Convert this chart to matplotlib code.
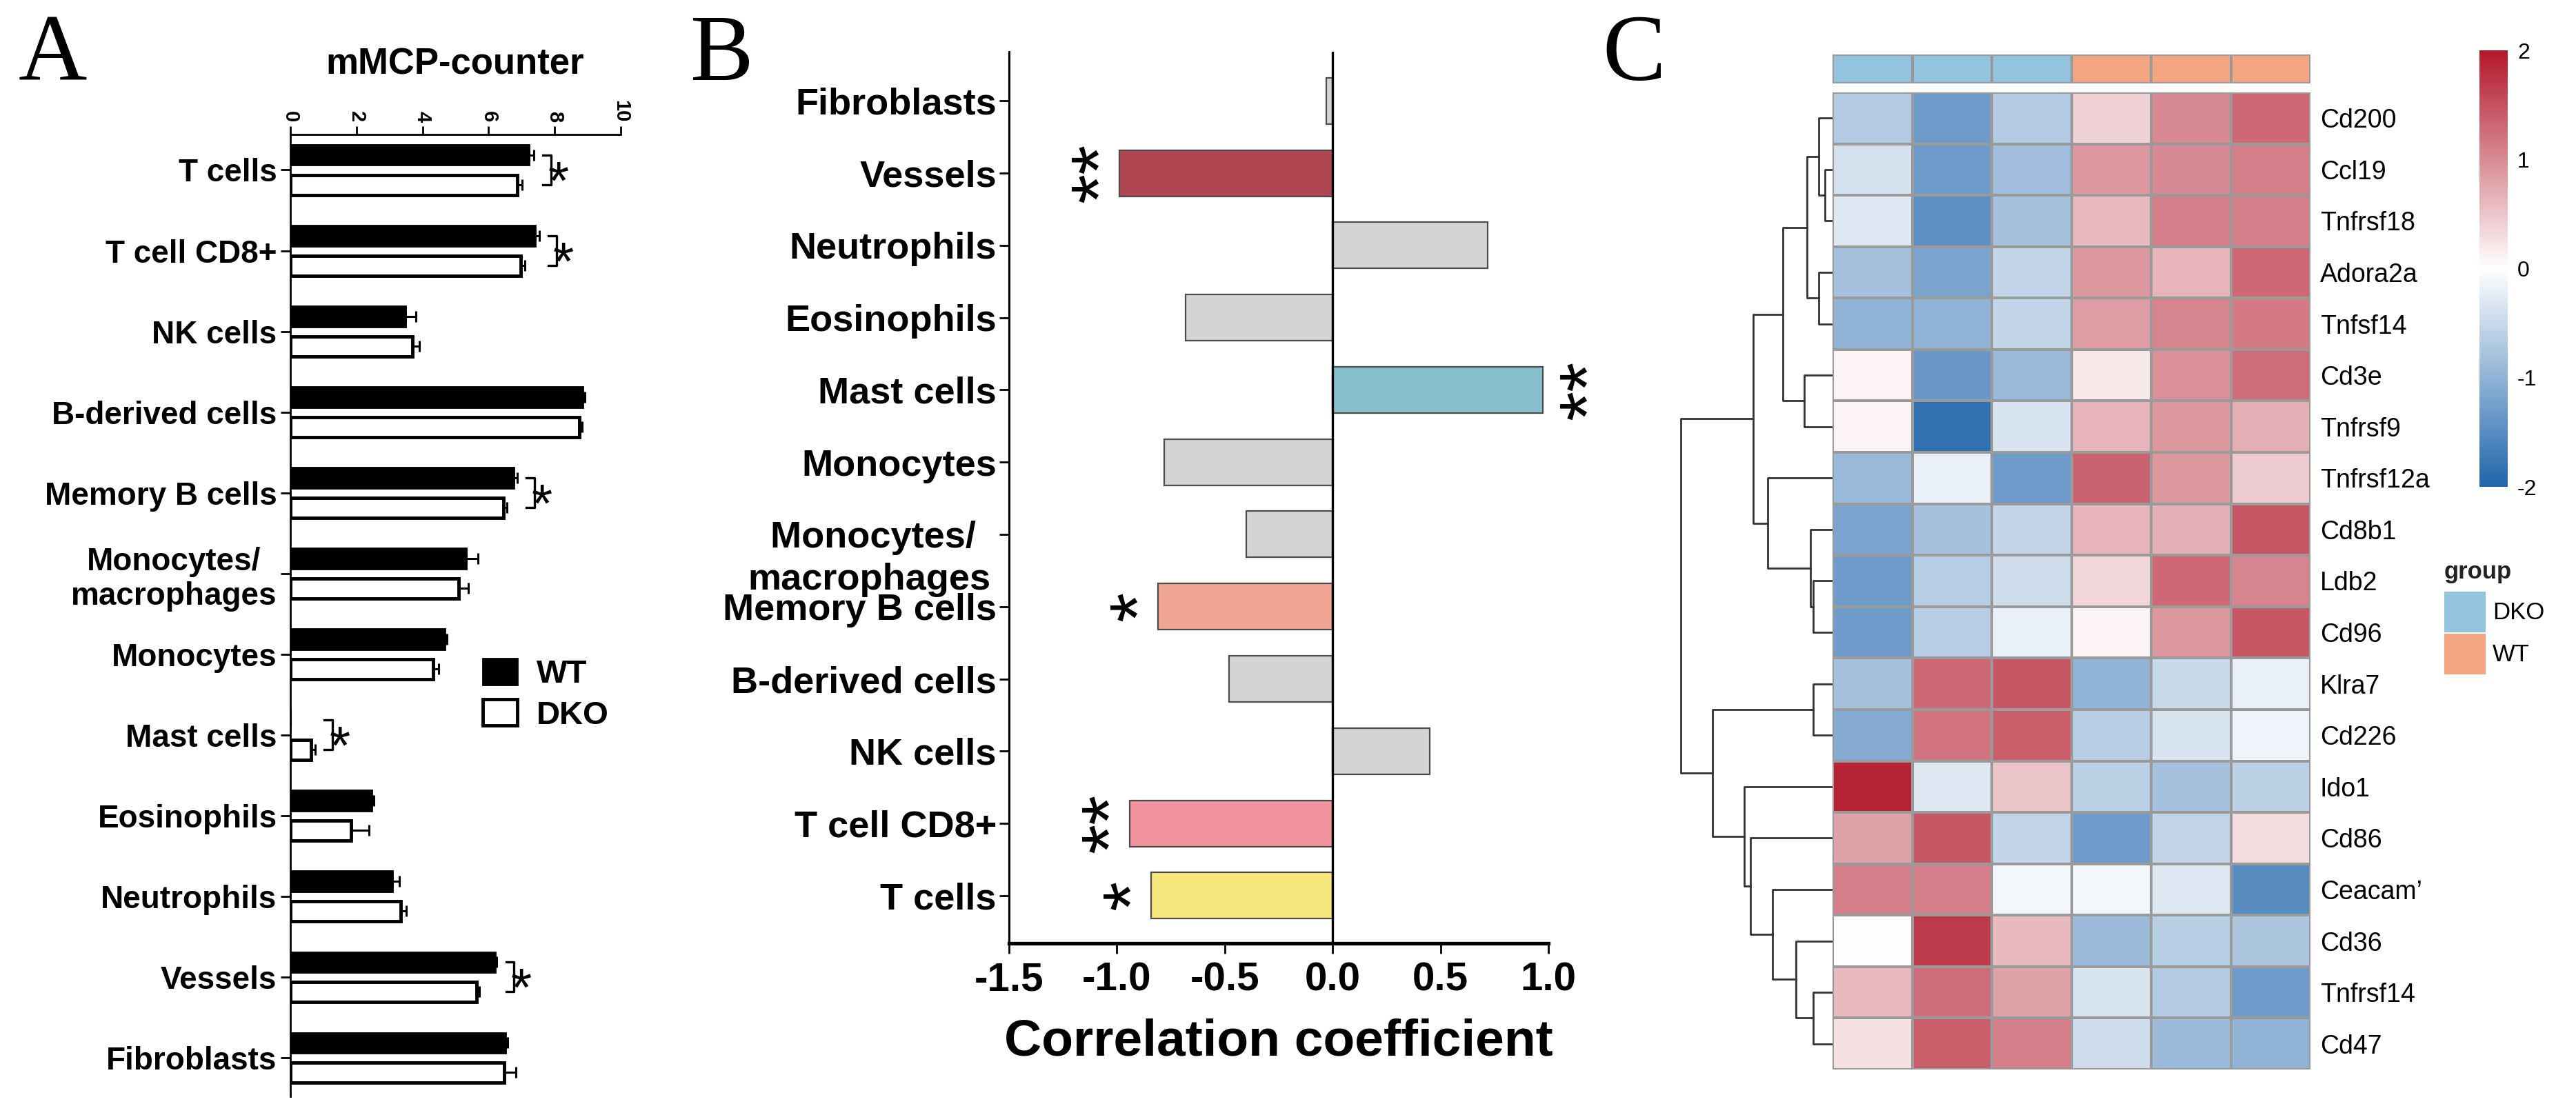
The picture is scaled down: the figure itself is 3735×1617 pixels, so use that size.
import numpy as np
import matplotlib
matplotlib.use('Agg')
import matplotlib.pyplot as plt
from matplotlib.colors import LinearSegmentedColormap, ListedColormap, Normalize
from matplotlib.patches import Patch, Rectangle
from matplotlib.cm import ScalarMappable
from matplotlib.transforms import blended_transform_factory

plt.rcParams['font.family'] = ['Liberation Sans', 'DejaVu Sans']
plt.rcParams['axes.unicode_minus'] = False

# ---- panel A data (mMCP-counter scores) ----
cells_a = ['T cells', 'T cell CD8+', 'NK cells', 'B-derived cells', 'Memory B cells',
           'Monocytes/\nmacrophages', 'Monocytes', 'Mast cells', 'Eosinophils',
           'Neutrophils', 'Vessels', 'Fibroblasts']
wt_mean = [7.22, 7.41, 3.49, 8.86, 6.77, 5.32, 4.68, 0.0, 2.47, 3.10, 6.20, 6.52]
wt_err = [0.15, 0.12, 0.30, 0.05, 0.10, 0.35, 0.05, 0.0, 0.05, 0.20, 0.05, 0.05]
dko_mean = [6.87, 6.97, 3.70, 8.74, 6.46, 5.09, 4.33, 0.63, 1.84, 3.35, 5.63, 6.48]
dko_err = [0.15, 0.12, 0.20, 0.10, 0.10, 0.30, 0.15, 0.12, 0.55, 0.15, 0.10, 0.35]
sig_a = ['T cells', 'T cell CD8+', 'Memory B cells', 'Mast cells', 'Vessels']

# ---- panel B data (correlation coefficients) ----
cells_b = ['Fibroblasts', 'Vessels', 'Neutrophils', 'Eosinophils', 'Mast cells', 'Monocytes',
           'Monocytes/', 'Memory B cells', 'B-derived cells', 'NK cells', 'T cell CD8+', 'T cells']
corr_b = [-0.03, -0.99, 0.72, -0.68, 0.975, -0.78, -0.40, -0.81, -0.48, 0.45, -0.94, -0.84]
stars_b = ['', '**', '', '', '**', '', '', '*', '', '', '**', '*']
colors_b = ['#D4D4D4', '#B04651', '#D4D4D4', '#D4D4D4', '#87C0CA', '#D4D4D4',
            '#D4D4D4', '#F2A493', '#D4D4D4', '#D4D4D4', '#F0939F', '#F7E67B']

# ---- panel C data (heatmap z-scores) ----
genes = ['Cd200', 'Ccl19', 'Tnfrsf18', 'Adora2a', 'Tnfsf14', 'Cd3e', 'Tnfrsf9', 'Tnfrsf12a',
         'Cd8b1', 'Ldb2', 'Cd96', 'Klra7', 'Cd226', 'Ido1', 'Cd86', 'Ceacam\u2019', 'Cd36',
         'Tnfrsf14', 'Cd47']
groups = ['DKO', 'DKO', 'DKO', 'WT', 'WT', 'WT']
zscores = np.array([
    [-0.70, -1.30, -0.70, 0.40, 1.00, 1.30],
    [-0.40, -1.30, -0.85, 0.90, 1.00, 1.10],
    [-0.30, -1.45, -0.80, 0.60, 1.10, 1.10],
    [-0.80, -1.20, -0.55, 0.90, 0.65, 1.30],
    [-1.00, -1.00, -0.55, 0.85, 1.05, 1.15],
    [0.10, -1.35, -0.90, 0.20, 0.95, 1.25],
    [0.10, -1.85, -0.35, 0.65, 0.90, 0.70],
    [-0.90, -0.20, -1.30, 1.35, 0.90, 0.45],
    [-1.20, -0.80, -0.55, 0.65, 0.70, 1.45],
    [-1.30, -0.65, -0.45, 0.35, 1.30, 1.05],
    [-1.30, -0.65, -0.20, 0.10, 0.90, 1.45],
    [-0.80, 1.30, 1.45, -1.00, -0.50, -0.20],
    [-1.10, 1.20, 1.40, -0.65, -0.35, -0.15],
    [1.90, -0.30, 0.50, -0.60, -0.80, -0.60],
    [0.80, 1.45, -0.55, -1.30, -0.55, 0.30],
    [1.10, 1.10, -0.10, -0.10, -0.30, -1.50],
    [0.02, 1.70, 0.60, -0.90, -0.65, -0.75],
    [0.60, 1.25, 0.80, -0.35, -0.70, -1.30],
    [0.25, 1.40, 1.10, -0.45, -0.90, -1.00],
])
# row dendrogram: (child a, child b, merge height); ids >= 19 are earlier merges
linkage = [(1, 2, 11), (0, 19, 20), (3, 4, 20), (20, 21, 37), (5, 6, 41), (22, 23, 72),
           (9, 10, 28), (8, 25, 32), (7, 26, 94), (24, 27, 115), (11, 12, 28),
           (17, 18, 28), (16, 30, 53), (15, 31, 87), (14, 32, 119), (13, 33, 128),
           (29, 34, 174), (28, 35, 220)]

W, H = 3735, 1617
fig = plt.figure(figsize=(W / 100, H / 100), dpi=100)


def box(x0, y0, x1, y1):
    return [x0 / W, 1 - y1 / H, (x1 - x0) / W, (y1 - y0) / H]


# ================= panel A =================
axA = fig.add_axes(box(421, 195, 900, 1590))
ya = np.arange(len(cells_a))
zeros = np.zeros(len(cells_a))
ekw = dict(ecolor='black', elinewidth=2.2, capsize=6, capthick=2.2)
axA.barh(ya - 0.185, wt_mean, height=0.25, color='black', edgecolor='black', lw=2,
         xerr=[zeros, wt_err], error_kw=ekw, label='WT')
axA.barh(ya + 0.185, dko_mean, height=0.25, color='white', edgecolor='black', lw=3.5,
         xerr=[zeros, dko_err], error_kw=ekw, label='DKO')
for name in sig_a:
    i = cells_a.index(name)
    xm = max(wt_mean[i] + wt_err[i], dko_mean[i] + dko_err[i])
    x0, x1 = xm + 0.28, xm + 0.52
    axA.plot([x0, x1, x1, x0], [i - 0.185, i - 0.185, i + 0.185, i + 0.185],
             color='black', lw=2.4, clip_on=False)
    axA.text(x1 + 0.22, i + 0.36, '*', ha='center', va='baseline', fontsize=56, clip_on=False)
axA.set_xlim(0, 10)
axA.set_ylim(11.48, -0.44)
axA.xaxis.tick_top()
axA.set_xticks(range(0, 11, 2))
axA.set_xticklabels([str(v) for v in range(0, 11, 2)], rotation=270, fontsize=21,
                    fontweight='bold')
axA.set_yticks(ya)
axA.set_yticklabels(cells_a, fontsize=33, fontweight='bold', multialignment='center')
axA.tick_params(axis='x', length=9, width=2, pad=4)
axA.tick_params(axis='y', length=10, width=2, pad=4)
for s in ['bottom', 'right']:
    axA.spines[s].set_visible(False)
for s in ['top', 'left']:
    axA.spines[s].set_linewidth(2)
fig.text(660 / W, 1 - 107 / H, 'mMCP-counter', ha='center', va='baseline', fontsize=38,
         fontweight='bold')
fig.legend(handles=[Patch(facecolor='black', edgecolor='black', lw=2, label='WT'),
                    Patch(facecolor='white', edgecolor='black', lw=3.5, label='DKO')],
           loc='upper left', bbox_to_anchor=(700 / W, 1 - 955 / H), frameon=False,
           borderaxespad=0, borderpad=0, handlelength=1.05, handleheight=0.85,
           handletextpad=0.6, labelspacing=0.3, prop=dict(size=34, weight='bold'))

# ================= panel B =================
axB = fig.add_axes(box(1463, 75, 2245, 1368))
yb = np.arange(len(cells_b))
axB.barh(yb, corr_b, height=0.64, color=colors_b, edgecolor='#4d4d4d', lw=1.6)
axB.axvline(0, color='black', lw=2.4)
for i, st in enumerate(stars_b):
    if not st:
        continue
    sgn = 1 if corr_b[i] > 0 else -1
    axB.text(corr_b[i] + sgn * 0.15 + 0.08, i, st, rotation=90, ha='center', va='center',
             fontsize=80, clip_on=False)
axB.set_xlim(-1.5, 1.0)
axB.set_ylim(11.66, -0.68)
ticks_b = [-1.5, -1.0, -0.5, 0.0, 0.5, 1.0]
axB.set_xticks(ticks_b)
axB.set_xticklabels(['%.1f' % t for t in ticks_b], fontsize=42, fontweight='bold')
axB.set_yticks(yb)
axB.set_yticklabels([c + '  ' if c.endswith('/') else c for c in cells_b], fontsize=39,
                    fontweight='bold')
trB = blended_transform_factory(axB.transAxes, axB.transData)
axB.text(-0.034, 6.63, 'macrophages', transform=trB, ha='right', va='center', fontsize=39,
         fontweight='bold')
axB.tick_params(axis='x', length=11, width=2, pad=8)
axB.tick_params(axis='y', length=10, width=2, pad=3)
axB.set_xlabel('Correlation coefficient', fontsize=54, fontweight='bold', labelpad=20)
for s in ['top', 'right']:
    axB.spines[s].set_visible(False)
axB.spines['left'].set_linewidth(2.2)
axB.spines['bottom'].set_linewidth(3.8)

# ================= panel C =================
cmap = LinearSegmentedColormap.from_list('bwr_ph', ['#2166AC', '#FFFFFF', '#B2182B'])
axC = fig.add_axes(box(2657, 134, 3350, 1551))
axC.pcolormesh(zscores, cmap=cmap, vmin=-2, vmax=2, edgecolors='#9a9a9a', linewidth=1.6)
axC.set_xlim(0, zscores.shape[1])
axC.set_ylim(zscores.shape[0], 0)
axC.set_xticks([])
axC.yaxis.tick_right()
axC.set_yticks(np.arange(len(genes)) + 0.5)
axC.set_yticklabels(genes, fontsize=27)
axC.tick_params(axis='y', length=0, pad=10)
for s in axC.spines.values():
    s.set_visible(False)

grp_colors = {'DKO': '#92C5DD', 'WT': '#F4A582'}
grp_levels = ['DKO', 'WT']
axG = fig.add_axes(box(2657, 79, 3350, 121))
axG.pcolormesh(np.array([[grp_levels.index(g) for g in groups]]),
               cmap=ListedColormap([grp_colors[g] for g in grp_levels]), vmin=-0.5, vmax=1.5,
               edgecolors='#9a9a9a', linewidth=1.6)
axG.set_xlim(0, len(groups))
axG.set_ylim(1, 0)
axG.axis('off')

# row dendrogram
axD = fig.add_axes(box(2436, 134, 2657, 1551))
n = len(genes)
pos = {i: (i + 0.5, 0.0) for i in range(n)}
for k, (a, b, h) in enumerate(linkage):
    ya_, ha_ = pos[a]
    yb_, hb_ = pos[b]
    axD.plot([ha_, h, h, hb_], [ya_, ya_, yb_, yb_], color='#333333', lw=2)
    pos[n + k] = ((ya_ + yb_) / 2, h)
axD.set_xlim(221, 0)
axD.set_ylim(n, 0)
axD.axis('off')

# colour bar
cax = fig.add_axes(box(3595, 73, 3636, 706))
cb = fig.colorbar(ScalarMappable(norm=Normalize(-2, 2), cmap=cmap), cax=cax,
                  ticks=[-2, -1, 0, 1, 2])
cb.outline.set_visible(False)
cb.ax.tick_params(length=0, labelsize=23, pad=10)

# group legend
fig.text(3544 / W, 1 - 829 / H, 'group', ha='left', va='center', fontsize=25,
         fontweight='bold', color='#222222')
for j, g in enumerate(grp_levels):
    y0 = 858 + j * 61
    fig.patches.append(Rectangle((3544 / W, 1 - (y0 + 59) / H), 60 / W, 59 / H,
                                 transform=fig.transFigure, facecolor=grp_colors[g],
                                 edgecolor='none'))
    fig.text(3614 / W, 1 - (y0 + 30) / H, g, ha='left', va='center', fontsize=25)

# panel letters
for letter, xl in [('A', 27), ('B', 1000), ('C', 2323)]:
    fig.text(xl / W, 1 - 116 / H, letter, ha='left', va='baseline', fontsize=99,
             family=['Liberation Serif', 'DejaVu Serif'])

fig.savefig('out.png', dpi=100)
